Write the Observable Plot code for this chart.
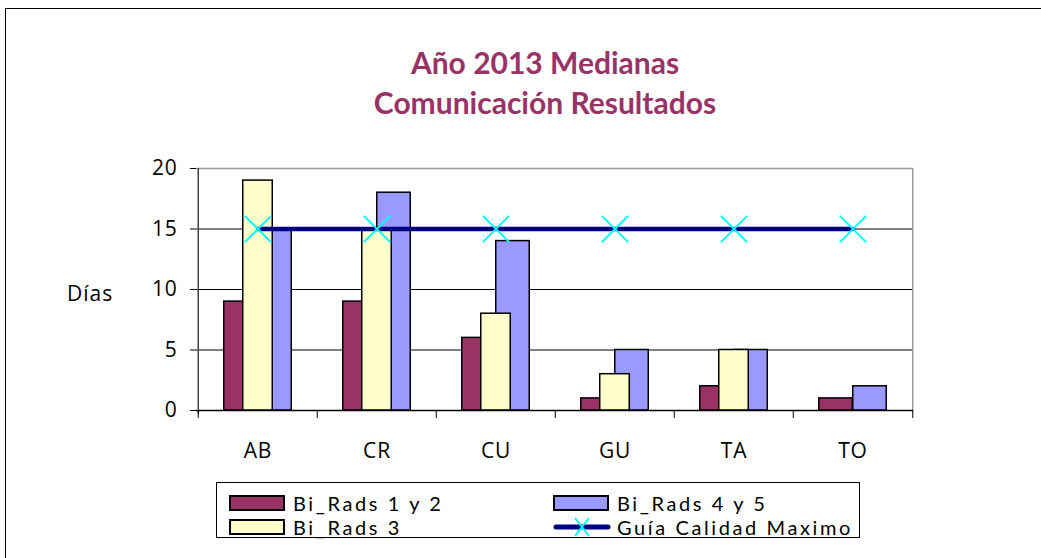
<!DOCTYPE html>
<html>
<head>
<meta charset="utf-8">
<script src="https://cdn.jsdelivr.net/npm/d3@7"></script>
<script src="https://cdn.jsdelivr.net/npm/@observablehq/plot@0.6"></script>
<style>
  html, body { margin: 0; padding: 0; background: #fff; overflow: hidden; }
  body { width: 1041px; height: 558px; position: relative; font-family: "Open Sans", Lato, sans-serif; }
  #frame { position: absolute; left: 5px; top: 8px; width: 1100px; height: 600px; border: 1.5px solid #000; box-sizing: border-box; }
  .title { position: absolute; left: 0; width: 1090px; text-align: center; color: #993366; font-weight: bold; font-size: 30px; font-family: Lato, sans-serif; }
  #chart { position: absolute; left: 0; top: 150px; }
  #ylabel { position: absolute; left: 67px; top: 279px; font-size: 21px; letter-spacing: 1px; color: #000; }
  #legend { position: absolute; left: 216px; top: 482px; width: 644px; height: 56px; border: 1px solid #000; box-sizing: border-box; }
  .item { position: absolute; display: flex; align-items: center; font-family: Lato, sans-serif; font-size: 20px; line-height: 24px; letter-spacing: 2.6px; color: #000; height: 24px; }
  .item svg { margin-right: 6px; }
  #chart svg text { letter-spacing: 0.8px; }
</style>
</head>
<body>
<div id="frame"></div>
<div class="title" style="top:44px">Año 2013 Medianas</div>
<div class="title" style="top:84px">Comunicación Resultados</div>
<div id="ylabel">Días</div>
<div id="chart"></div>
<div id="legend"></div>
<script>
const categories = ["AB", "CR", "CU", "GU", "TA", "TO"];
const biRads12 = [9, 9, 6, 1, 2, 1];
const biRads3 = [19, 15, 8, 3, 5, null];
const biRads45 = [15, 18, 14, 5, 5, 2];
const guia = [15, 15, 15, 15, 15, 15];
const yTicks = [0, 5, 10, 15, 20];

const seriesNames = ["Bi_Rads 1 y 2", "Bi_Rads 3", "Bi_Rads 4 y 5", "Guía Calidad Maximo"];
const colors = {"Bi_Rads 1 y 2": "#993366", "Bi_Rads 3": "#FFFFCC", "Bi_Rads 4 y 5": "#9999FF", "Guía Calidad Maximo": "#000080"};

const W = 1041, H = 320, mL = 196, mR = 128, mT = 18, mB = 60;
const bw = (W - mL - mR) / categories.length;
const wide = 34, narrow = 15;

const rows = (vals, s) => categories.map((c, i) => ({cat: c, v: vals[i], s})).filter(d => d.v != null);
const d12 = rows(biRads12, seriesNames[0]);
const d3v = rows(biRads3, seriesNames[1]);
const d45 = rows(biRads45, seriesNames[2]);
const dG = rows(guia, seriesNames[3]);

const chart = Plot.plot({
  width: W, height: H,
  marginLeft: mL, marginRight: mR, marginTop: mT, marginBottom: mB,
  style: {fontFamily: "'Open Sans', Lato, sans-serif", fontSize: "21px", color: "#000", background: "transparent"},
  x: {type: "band", domain: categories, padding: 0, label: null},
  y: {domain: [0, 20], label: null},
  marks: [
    Plot.ruleY([5, 10, 15], {stroke: "#000", strokeWidth: 1}),
    Plot.ruleY([20], {stroke: "#999", strokeWidth: 1.5}),
    Plot.ruleX([categories[categories.length - 1]], {dx: bw / 2, stroke: "#999", strokeWidth: 1.5}),
    Plot.barY(d12, {x: "cat", y1: 0, y2: "v", fill: colors[seriesNames[0]], stroke: "#000", strokeWidth: 1.5, insetLeft: bw / 2 - wide, insetRight: bw / 2}),
    Plot.barY(d45, {x: "cat", y1: 0, y2: "v", fill: colors[seriesNames[2]], stroke: "#000", strokeWidth: 1.5, insetLeft: bw / 2, insetRight: bw / 2 - wide}),
    Plot.barY(d3v, {x: "cat", y1: 0, y2: "v", fill: colors[seriesNames[1]], stroke: "#000", strokeWidth: 1.5, insetLeft: bw / 2 - narrow, insetRight: bw / 2 - narrow}),
    Plot.ruleY([0], {stroke: "#000", strokeWidth: 1.5}),
    Plot.ruleX([categories[0]], {dx: -bw / 2, stroke: "#444", strokeWidth: 1.5, insetBottom: -4}),
    Plot.ruleX(categories, {x: d => d, y1: 0, y2: 0, dx: -bw / 2, stroke: "#000", insetBottom: -8}),
    Plot.ruleX([categories[categories.length - 1]], {y1: 0, y2: 0, dx: bw / 2, stroke: "#000", insetBottom: -8}),
    Plot.axisY({ticks: yTicks, tickSize: 6, tickPadding: 13, fontSize: 21, stroke: "#000", label: null}),
    Plot.axisX({tickSize: 0, tickPadding: 33, fontSize: 21, label: null}),
    Plot.lineY(dG, {x: "cat", y: "v", stroke: colors[seriesNames[3]], strokeWidth: 4.5}),
    Plot.dot(dG, {x: "cat", y: "v", symbol: "times", r: 12, stroke: "#00FFFF", strokeWidth: 2})
  ]
});
document.getElementById("chart").appendChild(chart);

// Legend
const legend = document.getElementById("legend");
const legendPos = [
  {s: seriesNames[0], left: 12, top: 8},
  {s: seriesNames[1], left: 12, top: 32},
  {s: seriesNames[2], left: 336, top: 8},
  {s: seriesNames[3], left: 336, top: 32}
];
for (const p of legendPos) {
  const div = document.createElement("div");
  div.className = "item";
  div.style.left = p.left + "px";
  div.style.top = p.top + "px";
  let sw;
  if (p.s === seriesNames[3]) {
    sw = `<svg width="58" height="24"><line x1="3" y1="12" x2="55" y2="12" stroke="${colors[p.s]}" stroke-width="5" stroke-linecap="round"/><path d="M22,3 L36,21 M22,21 L36,3" stroke="#00FFFF" stroke-width="2"/></svg>`;
  } else {
    sw = `<svg width="58" height="24"><rect x="1" y="5" width="54" height="14" fill="${colors[p.s]}" stroke="#000" stroke-width="2"/></svg>`;
  }
  div.innerHTML = sw + `<span>${p.s}</span>`;
  legend.appendChild(div);
}
</script>
</body>
</html>
